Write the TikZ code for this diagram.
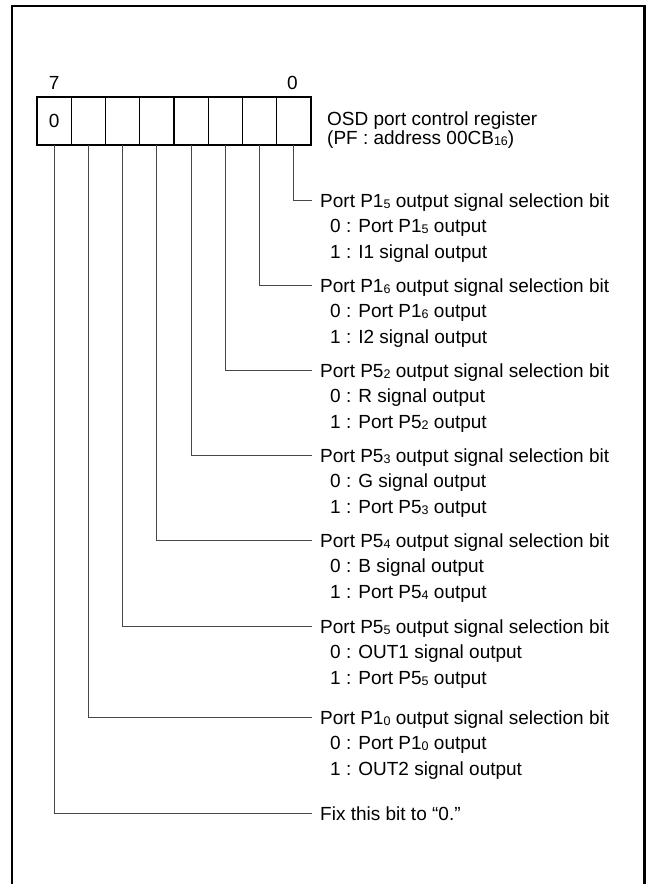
\documentclass[tikz,border=0pt]{standalone}
\usepackage{fontspec}
\setmainfont{Liberation Sans}
\usetikzlibrary{positioning,calc}
\newcommand{\lo}[1]{\raisebox{-0.1ex}{\fontsize{12.5}{12.5}\selectfont #1}}
\tikzset{
  cell/.style ={rectangle,draw,line width=1.4pt,minimum width=34.25pt,minimum height=48pt,inner sep=0pt,outer sep=0pt},
  num/.style  ={inner sep=0pt},
  lead/.style ={draw=black!72,line width=0.9pt},
  desc/.style ={anchor=north west,align=left,inner sep=0pt,font=\fontsize{19}{25.5}\selectfont},
  frame/.style={line width=2.5pt,line join=miter},
}
\begin{document}
\begin{tikzpicture}[x=1pt,y=-1pt,font=\fontsize{19}{22}\selectfont]
  \useasboundingbox (0,0) rectangle (650,884);
  \draw[frame] (12,884) |- (644.5,6) -- (644.5,884);
  % register cells, bit 7 on the left
  \node[cell] (b7) at (54.1,121) {0};
  \node[cell,right=0pt of b7] (b6) {};
  \node[cell,right=0pt of b6] (b5) {};
  \node[cell,right=0pt of b5] (b4) {};
  \node[cell,right=0pt of b4] (b3) {};
  \node[cell,right=0pt of b3] (b2) {};
  \node[cell,right=0pt of b2] (b1) {};
  \node[cell,right=0pt of b1] (b0) {};
  \node[num,above=7pt of b7] (n7) {7};
  \node[num,above=7pt of b0,xshift=-1.5pt] (n0) {0};
  \node[desc,font=\fontsize{19}{17}\selectfont,right=16pt of b0.north east,anchor=north west,yshift=-15pt] (reg)
    {OSD port control register\\(PF : address 00CB\lo{16})};
  % bit descriptions
  \node[desc] (d0) at (320,193.4) {Port P1\lo{5} output signal selection bit\\\hspace*{10pt}0 : Port P1\lo{5} output\\\hspace*{10pt}1 : I1 signal output};
  \node[desc] (d1) at (320,278.4) {Port P1\lo{6} output signal selection bit\\\hspace*{10pt}0 : Port P1\lo{6} output\\\hspace*{10pt}1 : I2 signal output};
  \node[desc] (d2) at (320,363.4) {Port P5\lo{2} output signal selection bit\\\hspace*{10pt}0 : R signal output\\\hspace*{10pt}1 : Port P5\lo{2} output};
  \node[desc] (d3) at (320,448.4) {Port P5\lo{3} output signal selection bit\\\hspace*{10pt}0 : G signal output\\\hspace*{10pt}1 : Port P5\lo{3} output};
  \node[desc] (d4) at (320,533.4) {Port P5\lo{4} output signal selection bit\\\hspace*{10pt}0 : B signal output\\\hspace*{10pt}1 : Port P5\lo{4} output};
  \node[desc] (d5) at (320,619.4) {Port P5\lo{5} output signal selection bit\\\hspace*{10pt}0 : OUT1 signal output\\\hspace*{10pt}1 : Port P5\lo{5} output};
  \node[desc] (d6) at (320,710.4) {Port P1\lo{0} output signal selection bit\\\hspace*{10pt}0 : Port P1\lo{0} output\\\hspace*{10pt}1 : OUT2 signal output};
  \node[desc] (d7) at (320,806.4) {Fix this bit to “0.”};
  \foreach \i in {0,...,7}
    \draw[lead] (b\i.south) |- ($(d\i.north west)+(-8,6.6)$);
\end{tikzpicture}
\end{document}
